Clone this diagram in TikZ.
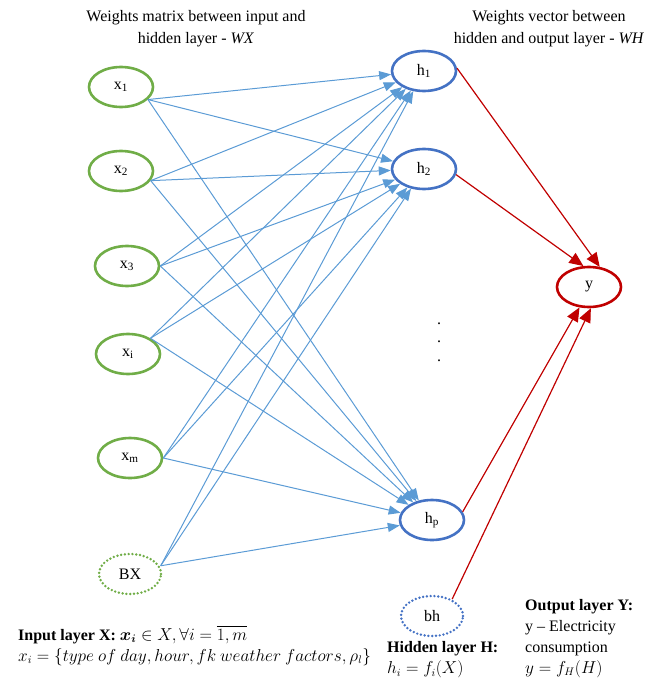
\documentclass[tikz,border=0pt]{standalone}
\usepackage{amsmath}
\usepackage{fontspec}
\setmainfont{Liberation Serif}
\usetikzlibrary{arrows.meta,shapes.geometric}

\definecolor{ingreen}{RGB}{112,173,71}
\definecolor{hidblue}{RGB}{68,114,196}
\definecolor{wxblue}{RGB}{91,155,213}
\definecolor{outred}{RGB}{192,0,0}

\tikzset{
  neuron/.style={ellipse, line width=2.6pt, minimum width=64pt,
                 minimum height=40pt, inner sep=0pt},
  inneuron/.style={neuron, draw=ingreen},
  hidneuron/.style={neuron, draw=hidblue},
  outneuron/.style={neuron, draw=outred},
  biasdots/.style={dash pattern=on 0pt off 3.8pt, line cap=round, line width=2.7pt},
  wxarrow/.style={draw=wxblue, line width=1pt,
                  -{Triangle[length=12pt,width=9pt,fill=wxblue]}},
  wharrow/.style={draw=outred, line width=1.2pt,
                  -{Triangle[length=14pt,width=12pt,fill=outred]}},
  caption/.style={align=left, anchor=base west, inner sep=0pt}
}

\begin{document}
\begin{tikzpicture}[x=1pt, y=-1pt, font=\fontsize{16}{21}\selectfont]
    \useasboundingbox (0,0) rectangle (656,679);

    % Input layer X

    \node [align=center, font=\fontsize{16}{22}\selectfont] at (196,29)
          {Weights matrix between input and\\hidden layer - \textit{WX}};
    \node (x1) [inneuron] at (121,87) {x\textsubscript{1}};
    \node (x2) [inneuron] at (121,171) {x\textsubscript{2}};
    \node (x3) [inneuron] at (127,266) {x\textsubscript{3}};
    \node (xi) [inneuron] at (128,354) {x\textsubscript{i}};
    \node (xm) [inneuron] at (130,458) {x\textsubscript{m}};
    \node (bx) [inneuron, draw=none] at (130,574) {BX};
    \draw [ingreen, biasdots] (bx.center) ellipse (31pt and 20pt);
    \node (xcap) [caption] at (18,661)
          {\textbf{Input layer X:} $\boldsymbol{x_i}\in X, \forall i=\overline{1,m}$\\
           $x_i=\{type\ of\ day, hour, fk\ weather\ factors, \rho_l\}$};

    % Hidden layer H

    \node [align=center, font=\fontsize{16}{22}\selectfont] at (549,29)
          {Weights vector between\\hidden and output layer - \textit{WH}};
    \node (h1) [hidneuron] at (424,71) {h\textsubscript{1}};
    \node (h2) [hidneuron] at (424,169) {h\textsubscript{2}};
    \node (dots) [align=center, font=\fontsize{16}{18.5}\selectfont]
          at (439,342) {.\\.\\.};
    \node (hp) [hidneuron] at (432,520) {h\textsubscript{p}};
    \node (bh) [hidneuron, draw=none] at (432,616) {bh};
    \draw [hidblue, biasdots] (bh.center) ellipse (31pt and 20pt);
    \node (hcap) [caption] at (387,673.5)
          {\textbf{Hidden layer H:}\\$h_i=f_i(X)$};

    \foreach \src/\ang in {x1/-25, x2/-18, x3/0, xi/35, xm/0, bx/15}
      \foreach \dst in {h1,h2,hp}
        \draw [wxarrow] (\src.\ang) -- (\dst);

    % Output layer Y

    \node (y) [outneuron] at (589,287) {y};
    \node (ycap) [caption] at (525,673)
          {\textbf{Output layer Y:}\\y -- Electricity\\consumption\\$y=f_H(H)$};
    \draw [wharrow] (h1.5) -- (y.62);
    \draw [wharrow] (h2.-10) -- (y.105);
    \draw [wharrow] (hp.15) -- (y.-115);
    \draw [wharrow] (bh.40) -- (y.-85);
\end{tikzpicture}
\end{document}
